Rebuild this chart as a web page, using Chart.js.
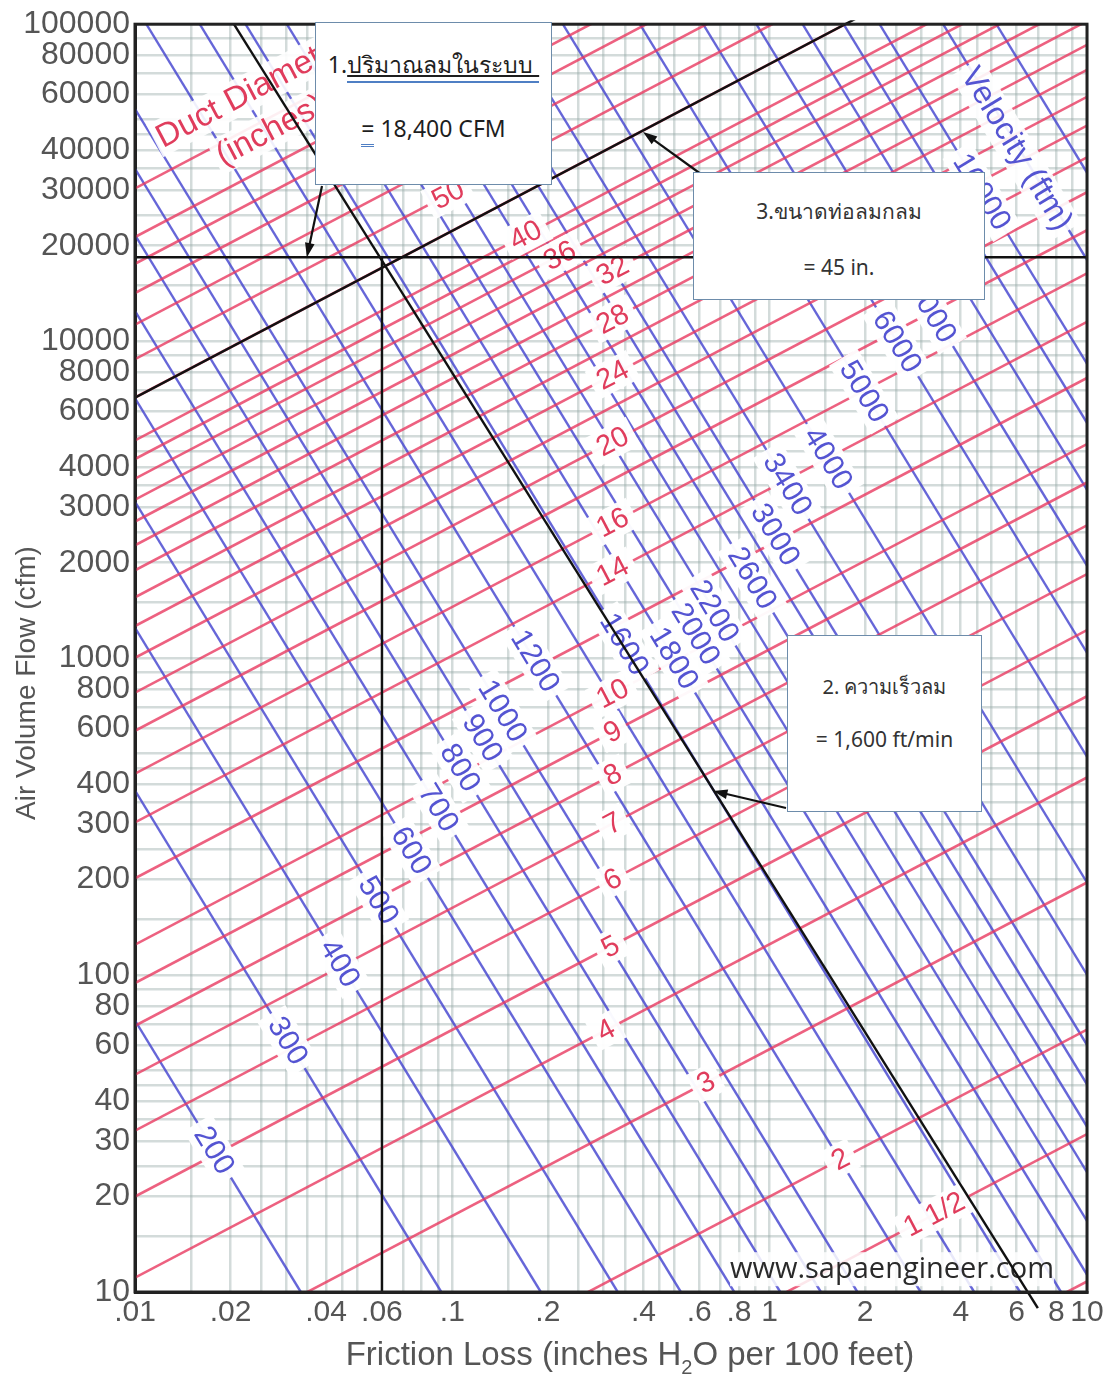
<!DOCTYPE html>
<html>
<head>
<meta charset="utf-8">
<title>Duct friction chart</title>
<script src="https://cdn.jsdelivr.net/npm/chart.js"></script>
<style>
  html, body { margin: 0; padding: 0; background: #fff; }
  #stage { position: relative; width: 1119px; height: 1382px; overflow: hidden; }
  #chart { position: absolute; left: 0; top: 0; }
  .note { position: absolute; background: #fff; border: 1px solid #6d8cab; box-sizing: border-box;
          font-family: "Noto Sans", "Open Sans", sans-serif; color: #1e1e1e; }
  .note .row { position: absolute; left: 0; right: 0; text-align: center; line-height: 1.2; white-space: nowrap; }
  .uline { text-decoration: underline; border-bottom: 2px solid #4f7fc4; padding-bottom: 1px; }
  .dbl { border-bottom: 3px double #4f7fc4; }
</style>
</head>
<body>
<div id="stage">
  <canvas id="chart" width="1119" height="1382"></canvas>

  <div class="note" style="left:315px;top:22px;width:237px;height:163px">
    <div class="row" style="top:28px;font-size:23px">1.<span class="uline">ปริมาณลมในระบบ&nbsp;</span></div>
    <div class="row" style="top:92px;font-size:23px"><span class="dbl">=</span> 18,400 CFM</div>
  </div>

  <div class="note" style="left:693px;top:172px;width:292px;height:128px;color:#333">
    <div class="row" style="top:26px;font-size:21px">3.ขนาดท่อลมกลม</div>
    <div class="row" style="top:82px;font-size:21px">= 45 in.</div>
  </div>

  <div class="note" style="left:787px;top:635px;width:195px;height:177px;color:#333">
    <div class="row" style="top:39px;font-size:20px">2. ความเร็วลม</div>
    <div class="row" style="top:91px;font-size:21px">= 1,600 ft/min</div>
  </div>
</div>

<script>
// axis ticks: friction loss (in. H2O / 100 ft) and air volume flow (cfm)
const frictionTickValues = [0.01, 0.02, 0.04, 0.06, 0.1, 0.2, 0.4, 0.6, 0.8, 1, 2, 4, 6, 8, 10];
const frictionTickLabels = ['.01', '.02', '.04', '.06', '.1', '.2', '.4', '.6', '.8', '1', '2', '4', '6', '8', '10'];
const cfmTickValues = [10, 20, 30, 40, 60, 80, 100, 200, 300, 400, 600, 800, 1000, 2000, 3000, 4000,
                       6000, 8000, 10000, 20000, 30000, 40000, 60000, 80000, 100000];
const gridSteps = [1, 1.5, 2, 2.5, 3, 3.5, 4, 4.5, 5, 6, 7, 8, 9];

// round duct lines: cfm where each diameter meets friction .01 and friction 10
const ductDiameters = [1, 1.5, 2, 3, 4, 5, 6, 7, 8, 9, 10, 12, 14, 16, 18, 20, 22, 24, 26, 28, 30,
                       32, 34, 36, 38, 40, 45, 50, 55, 60, 65, 70, 80];
const ductCfmAtLow = [0.284, 0.83, 1.77, 5.18, 11.1, 20.0, 32.3, 48.5, 69.2, 94.4, 124.7, 202, 303, 432,
                      590, 778, 1002, 1262, 1556, 1892, 2270, 2697, 3162, 3681, 4246, 4862, 6637, 8770,
                      11270, 14190, 17540, 21300, 30340];
const ductCfmAtHigh = [10.8, 31.5, 67.3, 196, 420, 758, 1226, 1841, 2624, 3581, 4732, 7656, 11510, 16370,
                       22390, 29510, 38020, 47860, 59020, 71780, 86100, 102300, 120000, 139600, 161100,
                       184500, 251800, 332700, 427600, 538300, 665300, 807200, 1151000];

// diameter tags and the friction value where each one sits
const ductTagText = ['1 1/2', '2', '3', '4', '5', '6', '7', '8', '9', '10', '14', '16', '20', '24', '28', '32', '36', '40', '50'];
const ductTagDia = [1.5, 2, 3, 4, 5, 6, 7, 8, 9, 10, 14, 16, 20, 24, 28, 32, 36, 40, 50];
const ductTagFriction = [3.3, 1.67, 0.63, 0.305, 0.315, 0.32, 0.32, 0.32, 0.32, 0.32, 0.32, 0.32, 0.32,
                         0.32, 0.32, 0.32, 0.218, 0.17, 0.097];

// velocity lines (fpm): friction where each meets 100000 cfm and 10 cfm
const velocities = [200, 300, 400, 500, 600, 700, 800, 900, 1000, 1200, 1400, 1600, 1800, 2000, 2200,
                    2400, 2600, 2800, 3000, 3400, 4000, 5000, 6000, 7000, 8000, 9000, 10000, 12000, 14000];
const velFrictionTop = [1.21e-4, 3.35e-4, 6.89e-4, 1.205e-3, 1.905e-3, 2.805e-3, 3.93e-3, 5.27e-3, 6.87e-3,
                        0.01086, 0.0160, 0.0223, 0.0301, 0.0392, 0.0497, 0.0618, 0.0757, 0.0910, 0.1084,
                        0.148, 0.223, 0.390, 0.617, 0.908, 1.27, 1.71, 2.22, 3.52, 5.18];
const velFrictionBottom = [0.0333, 0.0923, 0.190, 0.332, 0.525, 0.773, 1.08, 1.45, 1.89, 2.99, 4.41, 6.15,
                           8.28, 10.8, 13.7, 17.0, 20.8, 25.1, 29.9, 40.8, 61.4, 107, 170, 250, 350, 470,
                           612, 968, 1426];

// velocity tags and the cfm where each one sits
const velTagValues = [200, 300, 400, 500, 600, 700, 800, 900, 1000, 1200, 1600, 1800, 2000, 2200, 2600,
                      3000, 3400, 4000, 5000, 6000, 7000, 10000];
const velTagCfm = [28, 62, 109, 172, 247, 337, 451, 560, 681, 979, 1107, 1000, 1191, 1407, 1786, 2450,
                   3532, 4266, 6934, 9954, 12390, 29580];

// worked example: 18,400 cfm, .06 friction, 45 in. duct, 1,600 fpm
const designCfm = 18400;
const designFriction = 0.06;
const designDiameter = 45;
const guideVelFriction = [0.0205, 7.0];
const guideVelCfm = [100000, 8.9];
const arrowTipFriction = [0.0348, 0.399, 0.664];
const arrowTipCfm = [18400, 45700, 381];
const arrowTails = [[322, 186], [705, 177], [786, 808]];

const redLine = 'rgba(232,58,96,0.8)';
const blueLine = 'rgba(68,68,208,0.82)';
const redText = '#e03c5c';
const blueText = '#5454d2';
const gridColor = 'rgba(150,170,168,0.42)';

const closeTo = (a, b) => Math.abs(a - b) / b < 1e-6;
const logLerp = (a, b, t) => Math.pow(10, Math.log10(a) + (Math.log10(b) - Math.log10(a)) * t);

const frictionGrid = [];
[0.01, 0.1, 1].forEach(d => gridSteps.forEach(s => frictionGrid.push(+(d * s).toPrecision(4))));
frictionGrid.push(10);
const cfmGrid = [];
[10, 100, 1000, 10000].forEach(d => gridSteps.forEach(s => cfmGrid.push(d * s)));
cfmGrid.push(100000);

// datasets: black guides first so they are painted last
const datasets = [];
const guide = (data, clip) => ({ data, borderColor: '#111', borderWidth: 2.4, showLine: true,
  pointRadius: 0, clip: clip || 0 });
const kDesign = ductDiameters.indexOf(designDiameter);
datasets.push(guide([{ x: 0.01, y: designCfm }, { x: 10, y: designCfm }]));
datasets.push(guide([{ x: designFriction, y: 10 }, { x: designFriction, y: designCfm }]));
datasets.push(guide([{ x: 0.01, y: ductCfmAtLow[kDesign] }, { x: 10, y: ductCfmAtHigh[kDesign] }],
  { left: 0, top: 4, right: 0, bottom: 0 }));
datasets.push(guide([{ x: guideVelFriction[0], y: guideVelCfm[0] }, { x: guideVelFriction[1], y: guideVelCfm[1] }],
  { left: 0, top: 0, right: 0, bottom: 20 }));
const firstColored = datasets.length;

ductDiameters.forEach((d, i) => datasets.push({
  label: 'D ' + d,
  data: [{ x: 0.01, y: ductCfmAtLow[i] }, { x: 10, y: ductCfmAtHigh[i] }],
  borderColor: redLine, borderWidth: 2.6, showLine: true, pointRadius: 0, clip: 0
}));
velocities.forEach((v, i) => datasets.push({
  label: 'V ' + v,
  data: [{ x: velFrictionTop[i], y: 100000 }, { x: velFrictionBottom[i], y: 10 }],
  borderColor: blueLine, borderWidth: 2.4, showLine: true, pointRadius: 0, clip: 0
}));

function pix(chart, f, q) {
  return { x: chart.scales.x.getPixelForValue(f), y: chart.scales.y.getPixelForValue(q) };
}

function tag(ctx, text, p, angle, color, size) {
  ctx.save();
  ctx.translate(p.x, p.y);
  ctx.rotate(angle);
  ctx.font = size + 'px "Liberation Sans", Arial, sans-serif';
  const w = ctx.measureText(text).width;
  ctx.fillStyle = 'rgba(255,255,255,0.96)';
  ctx.fillRect(-w / 2 - 7, -size * 0.55, w + 14, size * 1.1);
  ctx.fillStyle = color;
  ctx.textAlign = 'center';
  ctx.textBaseline = 'middle';
  ctx.fillText(text, 0, 1);
  ctx.restore();
}

function banner(ctx, text, x, y, angle, color, font) {
  ctx.save();
  ctx.translate(x, y);
  ctx.rotate(angle);
  ctx.font = font;
  const w = ctx.measureText(text).width;
  ctx.fillStyle = 'rgba(255,255,255,0.9)';
  ctx.fillRect(-4, -28, w + 8, 36);
  ctx.fillStyle = color;
  ctx.textBaseline = 'alphabetic';
  ctx.fillText(text, 0, 0);
  ctx.restore();
}

function drawTags(chart) {
  const ctx = chart.ctx;
  const area = chart.chartArea;
  ctx.save();
  ctx.beginPath();
  ctx.rect(area.left, area.top, area.right - area.left, area.bottom - area.top);
  ctx.clip();

  let redAngle = 0, blueAngle = 0;
  ductTagText.forEach((txt, i) => {
    const k = ductDiameters.indexOf(ductTagDia[i]);
    const a = pix(chart, 0.01, ductCfmAtLow[k]);
    const b = pix(chart, 10, ductCfmAtHigh[k]);
    redAngle = Math.atan2(b.y - a.y, b.x - a.x);
    const t = (Math.log10(ductTagFriction[i]) + 2) / 3;
    const p = pix(chart, ductTagFriction[i], logLerp(ductCfmAtLow[k], ductCfmAtHigh[k], t));
    tag(ctx, txt, p, redAngle, redText, 29);
  });
  velTagValues.forEach((v, i) => {
    const k = velocities.indexOf(v);
    const a = pix(chart, velFrictionTop[k], 100000);
    const b = pix(chart, velFrictionBottom[k], 10);
    blueAngle = Math.atan2(b.y - a.y, b.x - a.x);
    const t = (5 - Math.log10(velTagCfm[i])) / 4;
    const p = pix(chart, logLerp(velFrictionTop[k], velFrictionBottom[k], t), velTagCfm[i]);
    tag(ctx, String(v), p, blueAngle, blueText, 30);
  });

  const big = '33px "Liberation Sans", Arial, sans-serif';
  banner(ctx, 'Duct Diameter', area.left + 28, area.top + 124, redAngle, redText, big);
  banner(ctx, '(inches)', area.left + 88, area.top + 142, redAngle, redText, big);

  ctx.save();
  ctx.translate(area.left + 881, area.top + 125);
  ctx.rotate(blueAngle);
  ctx.font = '32px "Liberation Sans", Arial, sans-serif';
  const vw = ctx.measureText('Velocity (ftm)').width;
  ctx.fillStyle = 'rgba(255,255,255,0.9)';
  ctx.fillRect(-vw / 2 - 4, -18, vw + 8, 36);
  ctx.fillStyle = blueText;
  ctx.textAlign = 'center';
  ctx.textBaseline = 'middle';
  ctx.fillText('Velocity (ftm)', 0, 0);
  ctx.restore();

  ctx.font = '29px "Open Sans", "Noto Sans", sans-serif';
  const ww = ctx.measureText('www.sapaengineer.com').width;
  ctx.fillStyle = 'rgba(255,255,255,0.85)';
  ctx.fillRect(area.left + 757 - ww / 2, area.top + 1228, ww, 34);
  ctx.fillStyle = '#2a2a2a';
  ctx.textAlign = 'center';
  ctx.textBaseline = 'middle';
  ctx.fillText('www.sapaengineer.com', area.left + 757, area.top + 1246);
  ctx.restore();
}

function arrow(ctx, from, to) {
  const a = Math.atan2(to.y - from.y, to.x - from.x);
  ctx.beginPath();
  ctx.moveTo(from.x, from.y);
  ctx.lineTo(to.x - 6 * Math.cos(a), to.y - 6 * Math.sin(a));
  ctx.stroke();
  ctx.beginPath();
  ctx.moveTo(to.x, to.y);
  ctx.lineTo(to.x - 15 * Math.cos(a - 0.33), to.y - 15 * Math.sin(a - 0.33));
  ctx.lineTo(to.x - 15 * Math.cos(a + 0.33), to.y - 15 * Math.sin(a + 0.33));
  ctx.closePath();
  ctx.fill();
}

const notesPlugin = {
  id: 'ductNotes',
  afterDatasetDraw(chart, args) {
    if (args.index === firstColored) drawTags(chart);
  },
  afterDraw(chart) {
    const ctx = chart.ctx;
    const area = chart.chartArea;
    ctx.save();
    ctx.strokeStyle = '#222';
    ctx.lineWidth = 3;
    ctx.strokeRect(area.left, area.top, area.right - area.left, area.bottom - area.top);

    ctx.strokeStyle = '#111';
    ctx.fillStyle = '#111';
    ctx.lineWidth = 2.2;
    arrowTipFriction.forEach((f, i) => {
      arrow(ctx, { x: arrowTails[i][0], y: arrowTails[i][1] }, pix(chart, f, arrowTipCfm[i]));
    });

    // axis titles
    ctx.fillStyle = '#555';
    ctx.textBaseline = 'middle';
    const fam = '"Liberation Sans", Arial, sans-serif';
    const parts = ['Friction Loss (inches H', '2', 'O per 100 feet)'];
    ctx.font = '33px ' + fam;
    const w0 = ctx.measureText(parts[0]).width;
    const w2 = ctx.measureText(parts[2]).width;
    ctx.font = '20px ' + fam;
    const w1 = ctx.measureText(parts[1]).width;
    const x = 630 - (w0 + w1 + w2) / 2;
    ctx.textAlign = 'left';
    ctx.font = '33px ' + fam;
    ctx.fillText(parts[0], x, 1356);
    ctx.font = '20px ' + fam;
    ctx.fillText(parts[1], x + w0, 1368);
    ctx.font = '33px ' + fam;
    ctx.fillText(parts[2], x + w0 + w1, 1356);

    ctx.translate(27, 683);
    ctx.rotate(-Math.PI / 2);
    ctx.textAlign = 'center';
    ctx.font = '28px ' + fam;
    ctx.fillText('Air Volume Flow (cfm)', 0, 0);
    ctx.restore();
  }
};

new Chart(document.getElementById('chart'), {
  type: 'scatter',
  data: { datasets },
  options: {
    responsive: false,
    animation: false,
    devicePixelRatio: 1,
    events: [],
    layout: { padding: { left: 0, right: 32, top: 22, bottom: 0 } },
    plugins: { legend: { display: false }, tooltip: { enabled: false } },
    scales: {
      x: {
        type: 'logarithmic',
        min: 0.01,
        max: 10,
        afterBuildTicks: s => { s.ticks = frictionGrid.map(v => ({ value: v })); },
        afterFit: s => { s.height = 90; },
        ticks: {
          autoSkip: false, maxRotation: 0, minRotation: 0, padding: 3, color: '#555',
          font: { family: 'Liberation Sans', size: 30 },
          callback: v => {
            const i = frictionTickValues.findIndex(t => closeTo(v, t));
            return i < 0 ? '' : frictionTickLabels[i];
          }
        },
        grid: { color: gridColor, lineWidth: 2.5, drawTicks: false },
        border: { display: true, color: '#222', width: 3 }
      },
      y: {
        type: 'logarithmic',
        min: 10,
        max: 100000,
        afterBuildTicks: s => { s.ticks = cfmGrid.map(v => ({ value: v })); },
        afterFit: s => { s.width = 135; },
        ticks: {
          autoSkip: false, padding: 5, color: '#555',
          font: { family: 'Liberation Sans', size: 32 },
          callback: v => (cfmTickValues.some(t => closeTo(v, t)) ? String(v) : '')
        },
        grid: { color: gridColor, lineWidth: 2.5, drawTicks: false },
        border: { display: true, color: '#222', width: 3 }
      }
    }
  },
  plugins: [notesPlugin]
});
</script>
</body>
</html>
